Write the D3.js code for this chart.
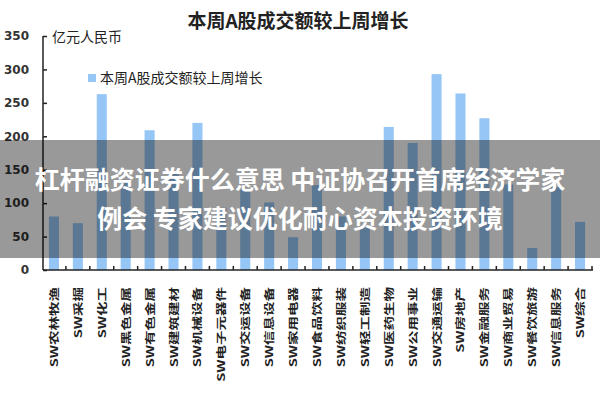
<!DOCTYPE html>
<html>
<head>
<meta charset="utf-8">
<script src="https://cdn.jsdelivr.net/npm/d3@7"></script>
<style>
  html, body { margin: 0; padding: 0; background: #fff; }
  svg { display: block; }
</style>
</head>
<body>
<svg id="chart" width="600" height="400"></svg>
<script>
const categories = ["SW农林牧渔","SW采掘","SW化工","SW黑色金属","SW有色金属","SW建筑建材","SW机械设备","SW电子元器件","SW交运设备","SW信息设备","SW家用电器","SW食品饮料","SW纺织服装","SW轻工制造","SW医药生物","SW公用事业","SW交通运输","SW房地产","SW金融服务","SW商业贸易","SW餐饮旅游","SW信息服务","SW综合"];
const values = [80, 70, 263, 135, 209, 147, 220, 93, 120, 101, 49, 127, 80, 65, 214, 190, 293, 264, 227, 128, 33, 124, 72];
const yTicks = [0, 50, 100, 150, 200, 250, 300, 350];
const title = "本周A股成交额较上周增长";
const yUnit = "亿元人民币";
const legendLabel = "本周A股成交额较上周增长";
const bannerLines = ["杠杆融资证券什么意思 中证协召开首席经济学家", "例会 专家建议优化耐心资本投资环境"];

const svg = d3.select("#chart");
const font = "'Noto Sans CJK SC', 'Noto Sans', sans-serif";

const x = d3.scaleBand().domain(categories).range([42, 592]).paddingInner(0.58).paddingOuter(0.29);
const y = d3.scaleLinear().domain([0, 350]).range([270, 36]);

// bars
svg.append("g").selectAll("rect").data(values).join("rect")
  .attr("x", (d, i) => x(categories[i]))
  .attr("width", x.bandwidth())
  .attr("y", d => y(d))
  .attr("height", d => y(0) - y(d))
  .attr("fill", "#96c6f5");

// y axis
const yAxis = svg.append("g").attr("transform", "translate(43,0)")
  .call(d3.axisRight(y).tickValues(yTicks).tickSize(4).tickFormat(""));
yAxis.select(".domain").attr("stroke", "#222").attr("stroke-width", 1.5).attr("d", `M0,${y(350)}V${y(0)}`);
yAxis.selectAll(".tick line").attr("stroke", "#222").attr("stroke-width", 1.5);

svg.append("g").selectAll("text").data(yTicks).join("text")
  .attr("x", 29).attr("y", d => y(d)).attr("dy", "0.36em")
  .attr("text-anchor", "end")
  .attr("font-family", "'DejaVu Sans', sans-serif").attr("font-weight", "bold")
  .attr("font-size", 12).attr("fill", "#333")
  .text(d => d);

// x axis
const xAxis = svg.append("g").attr("transform", "translate(0,270)");
xAxis.append("path").attr("d", "M43,0H593").attr("stroke", "#222").attr("stroke-width", 1.5).attr("fill", "none");
const bounds = categories.map(c => x(c) - x.step() * x.paddingInner() / 2 + x.step());
xAxis.selectAll("line").data(bounds).join("line")
  .attr("x1", d => d).attr("x2", d => d).attr("y1", 0).attr("y2", -4)
  .attr("stroke", "#222").attr("stroke-width", 1.5);

svg.append("g").selectAll("text").data(categories).join("text")
  .attr("transform", d => `translate(${x(d) + x.bandwidth() / 2 + 4},287) rotate(-90) scale(1.45,1)`)
  .attr("text-anchor", "end")
  .attr("font-family", font).attr("font-weight", "bold")
  .attr("font-size", 10).attr("fill", "#222")
  .text(d => d);

// title
svg.append("text").attr("x", 298).attr("y", 28).attr("text-anchor", "middle")
  .attr("font-family", font).attr("font-weight", "bold").attr("font-size", 19).attr("fill", "#222")
  .text(title);

// unit label
svg.append("text").attr("x", 52).attr("y", 42)
  .attr("font-family", font).attr("font-size", 14).attr("fill", "#222")
  .text(yUnit);

// legend
svg.append("rect").attr("x", 88).attr("y", 74).attr("width", 8).attr("height", 8).attr("fill", "#96c6f5");
svg.append("text").attr("x", 100).attr("y", 83)
  .attr("font-family", font).attr("font-size", 14).attr("fill", "#222")
  .text(legendLabel);

// banner overlay
svg.append("rect").attr("x", 0).attr("y", 140).attr("width", 600).attr("height", 118).attr("fill", "rgba(0,0,0,0.4)");
svg.append("g").selectAll("text").data(bannerLines).join("text")
  .attr("x", 300).attr("y", (d, i) => 189 + i * 39)
  .attr("text-anchor", "middle")
  .attr("font-family", font).attr("font-weight", "bold").attr("font-size", 25).attr("fill", "#fff")
  .text(d => d);
</script>
</body>
</html>
